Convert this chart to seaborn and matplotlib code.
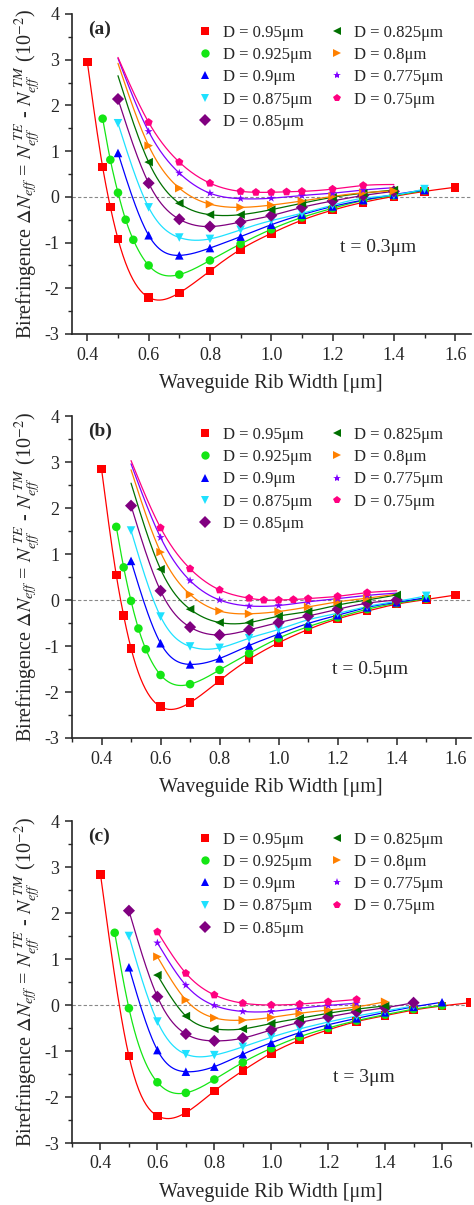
import numpy as np
import pandas as pd
import seaborn as sns
import matplotlib.pyplot as plt
from matplotlib.lines import Line2D
from matplotlib.ticker import MultipleLocator

# Series labels / styles
D_labels = ['D = 0.95μm', 'D = 0.925μm', 'D = 0.9μm', 'D = 0.875μm', 'D = 0.85μm',
            'D = 0.825μm', 'D = 0.8μm', 'D = 0.775μm', 'D = 0.75μm']
colors = ['#ff0000', '#14e614', '#0000ff', '#1ee1ff', '#800080',
          '#007000', '#ff8000', '#7f00ff', '#ff0080']
marks = ['s', 'o', '^', 'v', 'D', '<', '>', '*', 'p']

w_std = [0.6, 0.7, 0.8, 0.9, 1.0, 1.1, 1.2, 1.3, 1.4]

# ---- panel (a): t = 0.3um ----
a_w = [
    [0.4, 0.45, 0.475, 0.5] + w_std + [1.5, 1.6],
    [0.45, 0.475, 0.5, 0.525, 0.55] + w_std + [1.5],
    [0.5] + w_std + [1.5],
    [0.5] + w_std + [1.5],
    [0.5] + w_std,
    w_std,
    w_std,
    w_std[:-1],
    [0.6, 0.7, 0.8, 0.9, 0.95, 1.0, 1.05, 1.1, 1.2, 1.3],
]
a_dn = [
    [2.95, 0.65, -0.22, -0.92, -2.2, -2.1, -1.62, -1.15, -0.8, -0.51, -0.29, -0.12, 0.01, 0.12, 0.21],
    [1.71, 0.81, 0.09, -0.5, -0.94, -1.5, -1.7, -1.39, -1.03, -0.71, -0.45, -0.25, -0.08, 0.03, 0.14],
    [0.96, -0.84, -1.28, -1.12, -0.87, -0.61, -0.39, -0.21, -0.07, 0.05, 0.15],
    [1.61, -0.23, -0.89, -0.92, -0.72, -0.52, -0.36, -0.18, -0.03, 0.04, 0.17],
    [2.14, 0.3, -0.49, -0.65, -0.55, -0.41, -0.23, -0.09, 0.03, 0.12],
    [0.76, -0.14, -0.39, -0.39, -0.28, -0.14, -0.01, 0.08, 0.15],
    [1.12, 0.19, -0.16, -0.23, -0.18, -0.09, 0.01, 0.09, 0.13],
    [1.43, 0.52, 0.08, -0.04, -0.03, 0.03, 0.08, 0.15],
    [1.63, 0.76, 0.3, 0.12, 0.1, 0.1, 0.11, 0.12, 0.17, 0.25],
]
# curve start at w=0.5 / curve end at w=1.4 drawn without a marker
a_lead = [None, None, None, None, None, 2.65, 2.92, 3.03, 3.05]
a_tail = [None, None, None, None, None, None, None, 0.2, 0.27]

# ---- panel (b): t = 0.5um ----
b_w = [
    [0.4, 0.45, 0.475, 0.5] + w_std + [1.5, 1.6],
    [0.45, 0.475, 0.5, 0.525, 0.55] + w_std + [1.5],
    [0.5] + w_std + [1.5],
    [0.5] + w_std + [1.5],
    [0.5] + w_std,
    w_std,
    w_std[:-1],
    w_std[:-1],
    [0.6, 0.7, 0.8, 0.9, 0.95, 1.0, 1.05, 1.1, 1.2, 1.3],
]
b_dn = [
    [2.85, 0.54, -0.34, -1.05, -2.32, -2.23, -1.75, -1.29, -0.93, -0.64, -0.41, -0.24, -0.09, 0.01, 0.11],
    [1.59, 0.71, -0.02, -0.62, -1.07, -1.63, -1.83, -1.52, -1.16, -0.83, -0.58, -0.38, -0.2, -0.07, 0.03],
    [0.85, -0.94, -1.4, -1.27, -0.99, -0.74, -0.51, -0.33, -0.16, -0.05, 0.05],
    [1.51, -0.36, -1.01, -1.04, -0.83, -0.64, -0.43, -0.29, -0.14, -0.03, 0.09],
    [2.05, 0.2, -0.59, -0.76, -0.65, -0.49, -0.35, -0.2, -0.07, 0.0],
    [0.67, -0.2, -0.49, -0.49, -0.35, -0.25, -0.11, 0.0, 0.11],
    [1.04, 0.12, -0.24, -0.3, -0.25, -0.15, -0.04, 0.04],
    [1.36, 0.42, 0.0, -0.13, -0.12, -0.04, 0.03, 0.1],
    [1.57, 0.68, 0.22, 0.04, 0.0, 0.0, 0.01, 0.03, 0.08, 0.16],
]
b_lead = [None, None, None, None, None, 2.54, 2.83, 2.96, 3.03]
b_tail = [None, None, None, None, None, None, 0.13, 0.15, 0.2]

# ---- panel (c): t = 3um ----
c_w = [
    [0.4, 0.5] + w_std + [1.5, 1.6, 1.7],
    [0.45, 0.5] + w_std + [1.5, 1.6],
    [0.5] + w_std + [1.5, 1.6],
    [0.5] + w_std + [1.5],
    [0.5] + w_std + [1.5],
    w_std,
    w_std,
    w_std[:-1],
    w_std[:-1],
]
c_dn = [
    [2.84, -1.11, -2.41, -2.34, -1.87, -1.43, -1.05, -0.76, -0.54, -0.36, -0.23, -0.11, -0.02, 0.05],
    [1.57, -0.07, -1.68, -1.91, -1.62, -1.25, -0.94, -0.69, -0.5, -0.34, -0.21, -0.09, -0.01],
    [0.82, -0.98, -1.45, -1.34, -1.07, -0.82, -0.6, -0.43, -0.29, -0.16, -0.04, 0.06],
    [1.5, -0.36, -1.07, -1.09, -0.91, -0.7, -0.52, -0.37, -0.24, -0.13, -0.02],
    [2.05, 0.18, -0.63, -0.78, -0.72, -0.54, -0.38, -0.26, -0.15, -0.06, 0.05],
    [0.65, -0.24, -0.52, -0.52, -0.4, -0.29, -0.18, -0.09, -0.02],
    [1.05, 0.11, -0.28, -0.33, -0.27, -0.18, -0.11, -0.04, 0.07],
    [1.35, 0.43, -0.01, -0.14, -0.14, -0.07, -0.01, 0.04],
    [1.59, 0.69, 0.22, 0.04, 0.0, 0.02, 0.07, 0.12],
]
c_lead = [None] * 9
c_tail = [None] * 9

panel_tags = ['(a)', '(b)', '(c)']
thickness = ['t = 0.3μm', 't = 0.5μm', 't = 3μm']
x_limits = [(0.35, 1.65), (0.3, 1.65), (0.3, 1.7)]


def natural_spline(x, y, num=300):
    # natural cubic spline through the knots (smooth connecting curve)
    x = np.asarray(x, float)
    y = np.asarray(y, float)
    n = len(x)
    h = np.diff(x)
    A = np.zeros((n, n))
    r = np.zeros(n)
    A[0, 0] = A[-1, -1] = 1
    for i in range(1, n - 1):
        A[i, i - 1] = h[i - 1]
        A[i, i] = 2 * (h[i - 1] + h[i])
        A[i, i + 1] = h[i]
        r[i] = 6 * ((y[i + 1] - y[i]) / h[i] - (y[i] - y[i - 1]) / h[i - 1])
    M = np.linalg.solve(A, r)
    xs = np.linspace(x[0], x[-1], num)
    k = np.clip(np.searchsorted(x, xs) - 1, 0, n - 2)
    hk = h[k]
    a = (x[k + 1] - xs) / hk
    b = (xs - x[k]) / hk
    ys = a * y[k] + b * y[k + 1] + ((a ** 3 - a) * M[k] + (b ** 3 - b) * M[k + 1]) * hk ** 2 / 6
    return xs, ys


sns.set_style('ticks')
plt.rcParams['font.family'] = ['Liberation Serif', 'DejaVu Serif']
plt.rcParams['mathtext.fontset'] = 'stix'
plt.rcParams['axes.unicode_minus'] = False

palette = dict(zip(D_labels, colors))
marker_map = dict(zip(D_labels, marks))

fig = plt.figure(figsize=(4.74, 12.05), dpi=100)
left = 72 / 474
width = 398.5 / 474
tops = [14, 416, 821]
bottoms = [334, 738, 1143]
t_pos = [(340, 247), (332, 669), (333, 1078)]

panels = [(a_w, a_dn, a_lead, a_tail), (b_w, b_dn, b_lead, b_tail), (c_w, c_dn, c_lead, c_tail)]

for p, (ws, dns, leads, tails) in enumerate(panels):
    ax_h = bottoms[p] - tops[p]
    ax = fig.add_axes([left, 1 - bottoms[p] / 1205, width, ax_h / 1205])

    pts = []
    curves = []
    for i, lab in enumerate(D_labels):
        xk = list(ws[i])
        yk = list(dns[i])
        pts.append(pd.DataFrame({'w': xk, 'dn': yk, 'D': lab}))
        if leads[i] is not None:
            xk = [0.5] + xk
            yk = [leads[i]] + yk
        if tails[i] is not None:
            xk = xk + [1.4]
            yk = yk + [tails[i]]
        xs, ys = natural_spline(xk, yk)
        curves.append(pd.DataFrame({'w': xs, 'dn': ys, 'D': lab}))
    pts = pd.concat(pts, ignore_index=True)
    curves = pd.concat(curves, ignore_index=True)

    ax.axhline(0, color='#888888', ls=(0, (3, 2)), lw=0.8, zorder=1)
    sns.lineplot(data=curves, x='w', y='dn', hue='D', hue_order=D_labels, palette=palette,
                 estimator=None, sort=False, legend=False, lw=0.9, ax=ax, zorder=2)
    sns.scatterplot(data=pts, x='w', y='dn', hue='D', style='D', hue_order=D_labels,
                    style_order=D_labels, palette=palette, markers=marker_map, s=38,
                    linewidth=0, legend=False, ax=ax, zorder=3)

    ax.set_xlim(*x_limits[p])
    ax.set_ylim(-3, 4)
    ax.xaxis.set_major_locator(MultipleLocator(0.2))
    ax.xaxis.set_minor_locator(MultipleLocator(0.1))
    ax.yaxis.set_major_locator(MultipleLocator(1))
    ax.yaxis.set_minor_locator(MultipleLocator(0.5))
    ax.xaxis.set_major_formatter(plt.FormatStrFormatter('%.1f'))
    ax.tick_params(which='major', direction='out', length=5, width=1.1, labelsize=13, pad=4)
    ax.tick_params(which='minor', direction='out', length=3, width=1.0)
    for s in ['left', 'bottom']:
        ax.spines[s].set_linewidth(1.2)
    sns.despine(ax=ax)

    ax.set_xlabel('Waveguide Rib Width [μm]', fontsize=14.5)
    ax.xaxis.set_label_coords(0.5, -40 / ax_h)
    ax.set_ylabel(r'Birefringence $\mathit{\Delta}N_{eff}$ = $N_{eff}^{\ TE}$ - $N_{eff}^{\ TM}$ (10$^{-2}$)',
                  fontsize=14.5)
    ax.yaxis.set_label_coords(-29 / 398.5, 0.5)

    ax.text((88 - 72) / 398.5, (bottoms[p] - tops[p] - 15) / ax_h, panel_tags[p],
            transform=ax.transAxes, fontsize=14, fontweight='bold', va='center', ha='left')
    ax.text((t_pos[p][0] - 72) / 398.5, (bottoms[p] - t_pos[p][1]) / ax_h, thickness[p],
            transform=ax.transAxes, fontsize=14, va='center', ha='left')

    handles = [Line2D([], [], ls='none', marker=marks[i], color=colors[i], markersize=6,
                      markeredgewidth=0) for i in range(9)]
    ax.legend(handles, D_labels, ncol=2, frameon=False, fontsize=12, loc='upper left',
              bbox_to_anchor=(197 / 474, 1 - (tops[p] + 11) / 1205), bbox_transform=fig.transFigure,
              borderpad=0, borderaxespad=0, handlelength=1.0, handletextpad=0.55,
              labelspacing=0.37, columnspacing=1.0)

fig.savefig('out.png', dpi=100)
